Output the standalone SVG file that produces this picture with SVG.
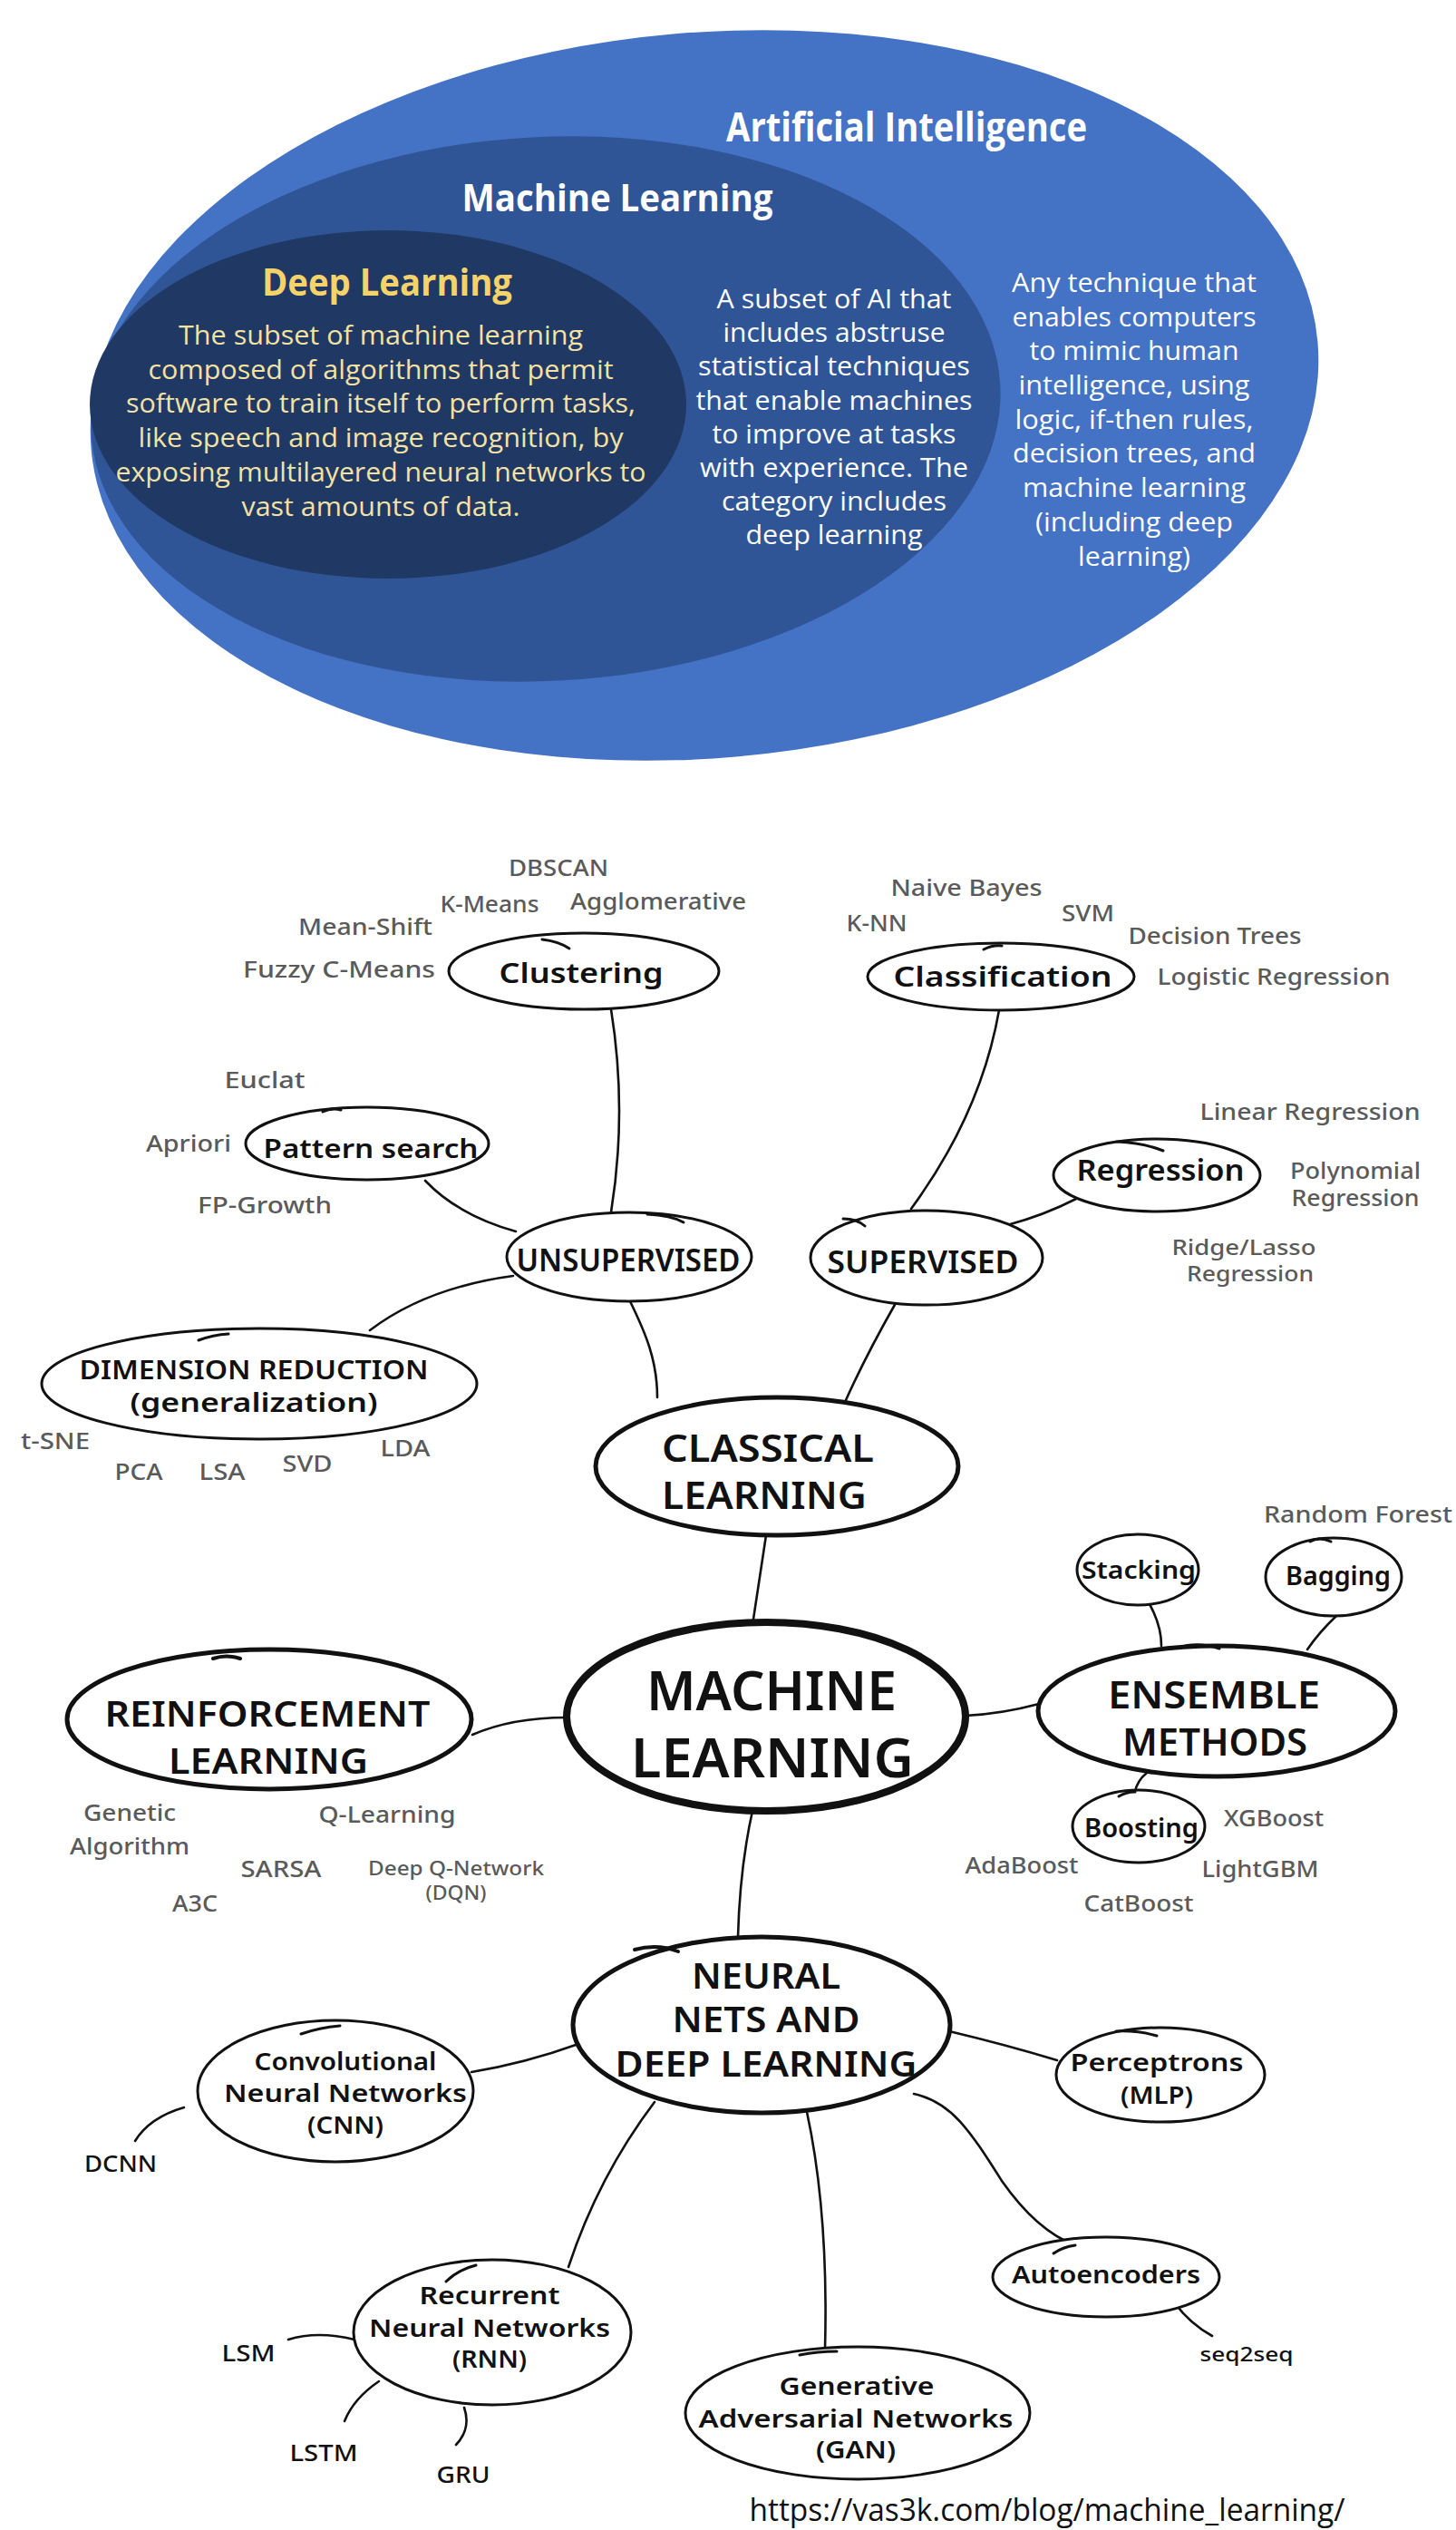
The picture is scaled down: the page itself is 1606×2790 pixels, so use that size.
<svg xmlns="http://www.w3.org/2000/svg" width="1606" height="2790" viewBox="0 0 1606 2790">
<style>
.vt{font-family:"Open Sans","Liberation Sans",sans-serif;text-anchor:middle}
.vh{font-weight:700;font-size:44px;fill:#ffffff}
.vb{font-size:29px;fill:#ffffff}
.dlh{font-weight:700;font-size:42px;fill:#F5D36B}
.dlb{font-size:29px;fill:#F3E2A4}
.nd ellipse{fill:#ffffff;stroke:#111;stroke-width:3}
.nd.big ellipse{stroke-width:5}
.nd.main ellipse{stroke-width:8}
.nd path{fill:none;stroke:#111;stroke-width:3;stroke-linecap:round}
.lb{font-family:"Noto Sans","DejaVu Sans",sans-serif;font-weight:600;fill:#111;text-anchor:middle}
.it{font-family:"Noto Sans","DejaVu Sans",sans-serif;font-weight:500;fill:#5a5a5a;text-anchor:middle;font-size:25px}
.bk{font-family:"Noto Sans","DejaVu Sans",sans-serif;font-weight:500;fill:#111;text-anchor:middle;font-size:25px}
#connectors path{fill:none;stroke:#111;stroke-width:2.6;stroke-linecap:round}
</style>
<rect width="1606" height="2790" fill="#ffffff"/>

<g id="venn">
<g id="ai">
<ellipse cx="777" cy="436" rx="679" ry="400" transform="rotate(-5 777 436)" fill="#4472C4"/>
<text class="vt vh" x="1000" y="156" textLength="398" lengthAdjust="spacingAndGlyphs">Artificial Intelligence</text>
<g class="vt vb">
<text x="1251" y="322" textLength="270" lengthAdjust="spacingAndGlyphs">Any technique that</text>
<text x="1251" y="360" textLength="269" lengthAdjust="spacingAndGlyphs">enables computers</text>
<text x="1251" y="397" textLength="231" lengthAdjust="spacingAndGlyphs">to mimic human</text>
<text x="1251" y="435" textLength="255" lengthAdjust="spacingAndGlyphs">intelligence, using</text>
<text x="1251" y="473" textLength="263" lengthAdjust="spacingAndGlyphs">logic, if-then rules,</text>
<text x="1251" y="510" textLength="268" lengthAdjust="spacingAndGlyphs">decision trees, and</text>
<text x="1251" y="548" textLength="246" lengthAdjust="spacingAndGlyphs">machine learning</text>
<text x="1251" y="586" textLength="218" lengthAdjust="spacingAndGlyphs">(including deep</text>
<text x="1251" y="624" textLength="124" lengthAdjust="spacingAndGlyphs">learning)</text>
</g>
</g>
<g id="ml-venn">
<ellipse cx="602" cy="451" rx="502" ry="300" transform="rotate(-3 602 451)" fill="#2F5597"/>
<text class="vt vh" x="681" y="233" textLength="343" lengthAdjust="spacingAndGlyphs" style="font-size:42px">Machine Learning</text>
<g class="vt vb">
<text x="920" y="340" textLength="259" lengthAdjust="spacingAndGlyphs">A subset of AI that</text>
<text x="920" y="377" textLength="245" lengthAdjust="spacingAndGlyphs">includes abstruse</text>
<text x="920" y="414" textLength="300" lengthAdjust="spacingAndGlyphs">statistical techniques</text>
<text x="920" y="452" textLength="305" lengthAdjust="spacingAndGlyphs">that enable machines</text>
<text x="920" y="489" textLength="269" lengthAdjust="spacingAndGlyphs">to improve at tasks</text>
<text x="920" y="526" textLength="296" lengthAdjust="spacingAndGlyphs">with experience. The</text>
<text x="920" y="563" textLength="248" lengthAdjust="spacingAndGlyphs">category includes</text>
<text x="920" y="600" textLength="195" lengthAdjust="spacingAndGlyphs">deep learning</text>
</g>
</g>
<g id="dl-venn">
<ellipse cx="428" cy="446" rx="329" ry="192" fill="#203864"/>
<text class="vt dlh" x="427" y="326" textLength="276" lengthAdjust="spacingAndGlyphs">Deep Learning</text>
<g class="vt dlb">
<text x="420" y="380" textLength="446" lengthAdjust="spacingAndGlyphs">The subset of machine learning</text>
<text x="420" y="418" textLength="513" lengthAdjust="spacingAndGlyphs">composed of algorithms that permit</text>
<text x="420" y="455" textLength="562" lengthAdjust="spacingAndGlyphs">software to train itself to perform tasks,</text>
<text x="420" y="493" textLength="535" lengthAdjust="spacingAndGlyphs">like speech and image recognition, by</text>
<text x="420" y="531" textLength="585" lengthAdjust="spacingAndGlyphs">exposing multilayered neural networks to</text>
<text x="420" y="569" textLength="307" lengthAdjust="spacingAndGlyphs">vast amounts of data.</text>
</g>
</g>
</g>

<g id="connectors">
<path d="M830,1792 Q838,1740 845,1693"/>
<path d="M695,1435 C712,1470 725,1500 725,1541"/>
<path d="M988,1437 Q955,1495 933,1544"/>
<path d="M674,1113 Q692,1225 674,1337"/>
<path d="M469,1302 Q505,1340 569,1358"/>
<path d="M566,1407 Q470,1420 408,1467"/>
<path d="M1005,1333 Q1082,1228 1102,1114"/>
<path d="M1111,1351 Q1152,1340 1187,1322"/>
<path d="M521,1913 Q565,1894 625,1894"/>
<path d="M1065,1892 Q1105,1890 1146,1879"/>
<path d="M1265,1764 Q1281,1790 1281,1815"/>
<path d="M1474,1782 Q1455,1800 1442,1819"/>
<path d="M1265,1955 Q1254,1964 1252,1976"/>
<path d="M830,1997 Q816,2060 814,2136"/>
<path d="M638,2254 Q580,2275 520,2285"/>
<path d="M722,2318 Q660,2400 627,2500"/>
<path d="M890,2329 Q914,2440 910,2591"/>
<path d="M1047,2240 Q1110,2255 1166,2272"/>
<path d="M1008,2309 C1050,2318 1070,2350 1105,2405 C1140,2455 1170,2470 1186,2476"/>
<path d="M203,2324 Q165,2335 149,2361"/>
<path d="M318,2580 Q350,2570 391,2580"/>
<path d="M418,2626 Q390,2645 380,2670"/>
<path d="M512,2655 Q520,2678 503,2696"/>
<path d="M1296,2540 Q1312,2562 1337,2576"/>
</g>

<g id="n-clustering" class="nd"><ellipse cx="644" cy="1071" rx="149" ry="42"/><path d="M598,1036 Q616,1038 628,1046"/><text class="lb" x="641" y="1084" font-size="31" textLength="181" lengthAdjust="spacingAndGlyphs">Clustering</text></g>
<g id="n-pattern" class="nd"><ellipse cx="405" cy="1261" rx="134" ry="40"/><path d="M356,1226 Q366,1221 376,1224"/><text class="lb" x="409" y="1277" font-size="28" textLength="237" lengthAdjust="spacingAndGlyphs">Pattern search</text></g>
<g id="n-unsupervised" class="nd"><ellipse cx="694" cy="1386" rx="135" ry="49"/><path d="M714,1339 Q740,1340 754,1348"/><text class="lb" x="693" y="1402" font-size="34" textLength="247" lengthAdjust="spacingAndGlyphs">UNSUPERVISED</text></g>
<g id="n-supervised" class="nd"><ellipse cx="1022" cy="1387" rx="128" ry="52"/><path d="M930,1344 Q945,1344 954,1352"/><text class="lb" x="1018" y="1404" font-size="35" textLength="211" lengthAdjust="spacingAndGlyphs">SUPERVISED</text></g>
<g id="n-classification" class="nd"><ellipse cx="1104" cy="1077" rx="147" ry="37"/><path d="M1085,1047 Q1095,1042 1105,1043"/><text class="lb" x="1106" y="1088" font-size="31" textLength="241" lengthAdjust="spacingAndGlyphs">Classification</text></g>
<g id="n-regression" class="nd"><ellipse cx="1276" cy="1296" rx="114" ry="40"/><path d="M1232,1259 Q1260,1260 1283,1269"/><text class="lb" x="1280" y="1302" font-size="32" textLength="185" lengthAdjust="spacingAndGlyphs">Regression</text></g>
<g id="n-dimred" class="nd"><ellipse cx="286" cy="1526" rx="240" ry="61"/><path d="M219,1478 Q235,1472 252,1471"/><text class="lb" font-size="29"><tspan x="280" y="1521" textLength="385" lengthAdjust="spacingAndGlyphs">DIMENSION REDUCTION</tspan><tspan x="280" y="1557" textLength="273" lengthAdjust="spacingAndGlyphs">(generalization)</tspan></text></g>
<g id="n-classical" class="nd big"><ellipse cx="857" cy="1617" rx="200" ry="76"/><text class="lb" font-size="42"><tspan x="847" y="1612" textLength="234" lengthAdjust="spacingAndGlyphs">CLASSICAL</tspan><tspan x="843" y="1664" textLength="226" lengthAdjust="spacingAndGlyphs">LEARNING</tspan></text></g>
<g id="n-ml" class="nd main"><ellipse cx="845" cy="1893" rx="220" ry="104"/><text class="lb" font-size="60"><tspan x="851" y="1886" textLength="276" lengthAdjust="spacingAndGlyphs">MACHINE</tspan><tspan x="852" y="1960" textLength="312" lengthAdjust="spacingAndGlyphs">LEARNING</tspan></text></g>
<g id="n-reinforcement" class="nd big"><ellipse cx="297" cy="1896" rx="223" ry="77"/><path d="M235,1829 Q250,1824 265,1829" style="stroke-width:4"/><text class="lb" font-size="40"><tspan x="295" y="1904" textLength="359" lengthAdjust="spacingAndGlyphs">REINFORCEMENT</tspan><tspan x="296" y="1956" textLength="220" lengthAdjust="spacingAndGlyphs">LEARNING</tspan></text></g>
<g id="n-ensemble" class="nd big"><ellipse cx="1342" cy="1887" rx="197" ry="72"/><path d="M1300,1817 Q1320,1810 1345,1818"/><text class="lb" font-size="42"><tspan x="1339" y="1884" textLength="234" lengthAdjust="spacingAndGlyphs">ENSEMBLE</tspan><tspan x="1340" y="1936" textLength="204" lengthAdjust="spacingAndGlyphs">METHODS</tspan></text></g>
<g id="n-stacking" class="nd"><ellipse cx="1255" cy="1731" rx="67" ry="39"/><text class="lb" x="1256" y="1741" font-size="27" textLength="126" lengthAdjust="spacingAndGlyphs">Stacking</text></g>
<g id="n-bagging" class="nd"><ellipse cx="1471" cy="1739" rx="75" ry="43"/><path d="M1445,1700 Q1455,1694 1468,1700"/><text class="lb" x="1476" y="1748" font-size="28" textLength="116" lengthAdjust="spacingAndGlyphs">Bagging</text></g>
<g id="n-boosting" class="nd"><ellipse cx="1256" cy="2014" rx="73" ry="40"/><path d="M1234,1981 Q1242,1976 1252,1976"/><text class="lb" x="1259" y="2026" font-size="28" textLength="126" lengthAdjust="spacingAndGlyphs">Boosting</text></g>
<g id="n-neural" class="nd big"><ellipse cx="840" cy="2233" rx="208" ry="97"/><path d="M700,2150 Q725,2143 748,2152" style="stroke-width:4"/><text class="lb" font-size="39"><tspan x="845" y="2193" textLength="164" lengthAdjust="spacingAndGlyphs">NEURAL</tspan><tspan x="845" y="2241" textLength="207" lengthAdjust="spacingAndGlyphs">NETS AND</tspan><tspan x="845" y="2290" textLength="333" lengthAdjust="spacingAndGlyphs">DEEP LEARNING</tspan></text></g>
<g id="n-cnn" class="nd"><ellipse cx="370" cy="2306" rx="152" ry="78"/><path d="M332,2243 Q352,2236 375,2234"/><text class="lb" font-size="27"><tspan x="381" y="2283" textLength="201" lengthAdjust="spacingAndGlyphs">Convolutional</tspan><tspan x="381" y="2318" textLength="268" lengthAdjust="spacingAndGlyphs">Neural Networks</tspan><tspan x="381" y="2353" textLength="84" lengthAdjust="spacingAndGlyphs">(CNN)</tspan></text></g>
<g id="n-rnn" class="nd"><ellipse cx="543" cy="2572" rx="153" ry="80"/><path d="M492,2516 Q505,2503 525,2498"/><text class="lb" font-size="27"><tspan x="540" y="2541" textLength="155" lengthAdjust="spacingAndGlyphs">Recurrent</tspan><tspan x="540" y="2577" textLength="266" lengthAdjust="spacingAndGlyphs">Neural Networks</tspan><tspan x="540" y="2611" textLength="82" lengthAdjust="spacingAndGlyphs">(RNN)</tspan></text></g>
<g id="n-perceptrons" class="nd"><ellipse cx="1280" cy="2288" rx="115" ry="52"/><path d="M1231,2240 Q1255,2239 1276,2245"/><text class="lb" font-size="27"><tspan x="1276" y="2284" textLength="191" lengthAdjust="spacingAndGlyphs">Perceptrons</tspan><tspan x="1276" y="2320" textLength="80" lengthAdjust="spacingAndGlyphs">(MLP)</tspan></text></g>
<g id="n-autoencoders" class="nd"><ellipse cx="1220" cy="2511" rx="125" ry="44"/><path d="M1162,2485 Q1172,2478 1186,2476"/><text class="lb" x="1220" y="2518" font-size="27" textLength="208" lengthAdjust="spacingAndGlyphs">Autoencoders</text></g>
<g id="n-gan" class="nd"><ellipse cx="946" cy="2661" rx="190" ry="73"/><path d="M882,2597 Q902,2593 923,2593"/><text class="lb" font-size="27"><tspan x="945" y="2641" textLength="171" lengthAdjust="spacingAndGlyphs">Generative</tspan><tspan x="944" y="2677" textLength="347" lengthAdjust="spacingAndGlyphs">Adversarial Networks</tspan><tspan x="944" y="2711" textLength="88" lengthAdjust="spacingAndGlyphs">(GAN)</tspan></text></g>

<g id="leaves">
<text class="bk" x="133" y="2395" textLength="80" lengthAdjust="spacingAndGlyphs">DCNN</text>
<text class="bk" x="274" y="2604" textLength="59" lengthAdjust="spacingAndGlyphs">LSM</text>
<text class="bk" x="357" y="2714" textLength="75" lengthAdjust="spacingAndGlyphs">LSTM</text>
<text class="bk" x="511" y="2738" textLength="59" lengthAdjust="spacingAndGlyphs">GRU</text>
<text class="bk" x="1375" y="2604" textLength="103" lengthAdjust="spacingAndGlyphs" style="font-size:22px">seq2seq</text>
</g>

<g id="items">
<text class="it" x="616" y="966" textLength="110" lengthAdjust="spacingAndGlyphs">DBSCAN</text>
<text class="it" x="540" y="1006" textLength="109" lengthAdjust="spacingAndGlyphs">K-Means</text>
<text class="it" x="726" y="1003" textLength="194" lengthAdjust="spacingAndGlyphs">Agglomerative</text>
<text class="it" x="403" y="1031" textLength="148" lengthAdjust="spacingAndGlyphs">Mean-Shift</text>
<text class="it" x="374" y="1078" textLength="212" lengthAdjust="spacingAndGlyphs">Fuzzy C-Means</text>
<text class="it" x="292" y="1200" textLength="89" lengthAdjust="spacingAndGlyphs">Euclat</text>
<text class="it" x="208" y="1270" textLength="94" lengthAdjust="spacingAndGlyphs">Apriori</text>
<text class="it" x="292" y="1338" textLength="148" lengthAdjust="spacingAndGlyphs">FP-Growth</text>
<text class="it" x="1066" y="988" textLength="167" lengthAdjust="spacingAndGlyphs">Naive Bayes</text>
<text class="it" x="967" y="1027" textLength="67" lengthAdjust="spacingAndGlyphs">K-NN</text>
<text class="it" x="1200" y="1016" textLength="58" lengthAdjust="spacingAndGlyphs">SVM</text>
<text class="it" x="1340" y="1041" textLength="191" lengthAdjust="spacingAndGlyphs">Decision Trees</text>
<text class="it" x="1405" y="1086" textLength="257" lengthAdjust="spacingAndGlyphs">Logistic Regression</text>
<text class="it" x="1445" y="1235" textLength="243" lengthAdjust="spacingAndGlyphs">Linear Regression</text>
<text class="it"><tspan x="1495" y="1300" textLength="144" lengthAdjust="spacingAndGlyphs">Polynomial</tspan><tspan x="1495" y="1330" textLength="141" lengthAdjust="spacingAndGlyphs">Regression</tspan></text>
<text class="it" style="font-size:23px"><tspan x="1372" y="1384" textLength="159" lengthAdjust="spacingAndGlyphs">Ridge/Lasso</tspan><tspan x="1379" y="1413" textLength="140" lengthAdjust="spacingAndGlyphs">Regression</tspan></text>
<text class="it" x="61" y="1598" textLength="76" lengthAdjust="spacingAndGlyphs">t-SNE</text>
<text class="it" x="153" y="1632" textLength="53" lengthAdjust="spacingAndGlyphs">PCA</text>
<text class="it" x="245" y="1632" textLength="51" lengthAdjust="spacingAndGlyphs">LSA</text>
<text class="it" x="339" y="1623" textLength="55" lengthAdjust="spacingAndGlyphs">SVD</text>
<text class="it" x="447" y="1606" textLength="55" lengthAdjust="spacingAndGlyphs">LDA</text>
<text class="it" x="143" y="2008" textLength="102" lengthAdjust="spacingAndGlyphs">Genetic</text>
<text class="it" x="143" y="2045" textLength="132" lengthAdjust="spacingAndGlyphs">Algorithm</text>
<text class="it" x="427" y="2010" textLength="151" lengthAdjust="spacingAndGlyphs">Q-Learning</text>
<text class="it" x="310" y="2070" textLength="89" lengthAdjust="spacingAndGlyphs">SARSA</text>
<text class="it" x="215" y="2108" textLength="50" lengthAdjust="spacingAndGlyphs">A3C</text>
<text class="it" style="font-size:22px"><tspan x="503" y="2068" textLength="194" lengthAdjust="spacingAndGlyphs">Deep Q-Network</tspan><tspan x="503" y="2095" textLength="67" lengthAdjust="spacingAndGlyphs">(DQN)</tspan></text>
<text class="it" x="1498" y="1679" textLength="208" lengthAdjust="spacingAndGlyphs">Random Forest</text>
<text class="it" x="1405" y="2014" textLength="110" lengthAdjust="spacingAndGlyphs">XGBoost</text>
<text class="it" x="1127" y="2066" textLength="125" lengthAdjust="spacingAndGlyphs">AdaBoost</text>
<text class="it" x="1390" y="2070" textLength="129" lengthAdjust="spacingAndGlyphs">LightGBM</text>
<text class="it" x="1256" y="2108" textLength="121" lengthAdjust="spacingAndGlyphs">CatBoost</text>
</g>

<text id="source" x="1155" y="2780" font-family="'Open Sans','Liberation Sans',sans-serif" font-size="34" fill="#111" text-anchor="middle" textLength="657" lengthAdjust="spacingAndGlyphs">https://vas3k.com/blog/machine_learning/</text>
</svg>
